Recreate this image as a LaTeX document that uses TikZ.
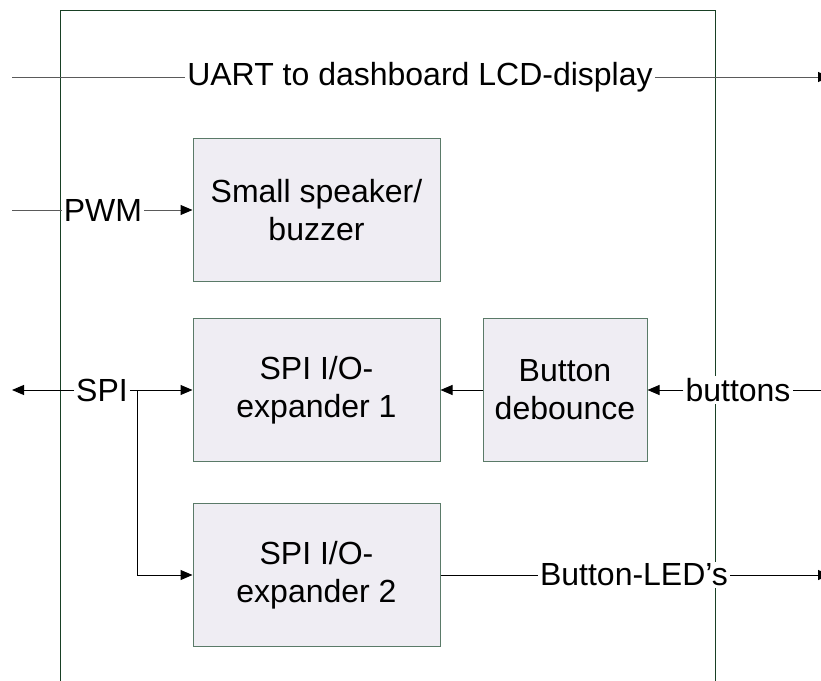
\documentclass[tikz,border=0pt]{standalone}
\usepackage{fontspec}
\setmainfont{Liberation Sans}
\usetikzlibrary{arrows.meta}
\definecolor{frame}{RGB}{24,64,36}
\definecolor{boxfill}{RGB}{239,237,243}
\definecolor{boxline}{RGB}{90,122,104}
\definecolor{uartline}{RGB}{90,90,90}
\tikzset{
  blk/.style={draw=boxline, fill=boxfill, line width=1pt, minimum width=247pt, minimum height=143pt, align=center, inner sep=0pt, font=\fontsize{32}{38}\selectfont},
  lbl/.style={fill=white, inner sep=2pt, font=\fontsize{32}{38}\selectfont},
  wire/.style={line width=1pt, black},
  arr/.style={wire, -{Triangle[length=12pt,width=10pt,color=black]}}
}
\begin{document}
\begin{tikzpicture}[x=1pt,y=-1pt]
\useasboundingbox (0,0) rectangle (821,680);
\clip (0,0) rectangle (821,680);
% outer frame
\draw[frame, line width=1pt] (60,10) rectangle (715,700);
% coordinates
\coordinate (uartL) at (12,77);
\coordinate (uartR) at (830,77);
\coordinate (pwmL) at (12,210);
\coordinate (spiL) at (12,390);
\coordinate (btnR) at (821,390);
\coordinate (ledR) at (830,575);
\coordinate (br) at (137,390);
\coordinate (brd) at (137,575);
% blocks
\node[blk] (spk) at (316.5,210) {Small speaker/\\buzzer};
\node[blk] (ex1) at (316.5,390) {SPI I/O-\\expander 1};
\node[blk, minimum width=164pt] (deb) at (565,390) {Button\\debounce};
\node[blk] (ex2) at (316.5,575) {SPI I/O-\\expander 2};
% labels
\node[lbl] (uart) at (420,77) {UART to dashboard LCD-display};
\node[lbl, fill=none] (pwm) at (103,210) {PWM};
\node[lbl] (spi) at (102,390) {SPI};
\node[lbl] (btn) at (738,390) {buttons};
\node[lbl] (led) at (634,575) {Button-LED’s};
% wires
\draw[wire, uartline] (uartL) -- (uart);
\draw[arr, uartline] (uart) -- (uartR);
\draw[wire, uartline] (pwmL) -- (pwm);
\draw[arr, uartline] (pwm) -- (spk);
\draw[arr] (spi) -- (spiL);
\draw[arr] (spi) -- (ex1);
\draw[arr] (br) -- (brd) -- (ex2);
\draw[wire] (btnR) -- (btn);
\draw[arr] (btn) -- (deb);
\draw[arr] (deb) -- (ex1);
\draw[wire] (ex2) -- (led);
\draw[arr] (led) -- (ledR);
\end{tikzpicture}
\end{document}
